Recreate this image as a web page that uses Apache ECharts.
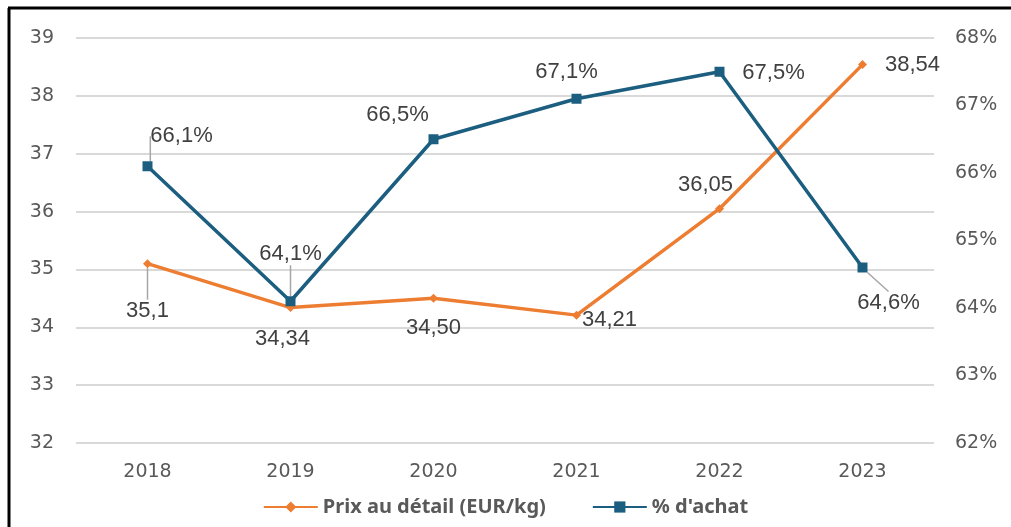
<!DOCTYPE html>
<html>
<head>
<meta charset="utf-8">
<script src="https://cdn.jsdelivr.net/npm/echarts@6/dist/echarts.min.js"></script>
<style>
  html, body { margin: 0; padding: 0; background: #fff; }
  #chart { width: 1011px; height: 527px; }
</style>
</head>
<body>
<div id="chart"></div>
<script>
    // categories and values
    const years = ['2018', '2019', '2020', '2021', '2022', '2023'];
    const prix = [35.1, 34.34, 34.50, 34.21, 36.05, 38.54];
    const prixLabels = ['35,1', '34,34', '34,50', '34,21', '36,05', '38,54'];
    const achat = [66.1, 64.1, 66.5, 67.1, 67.5, 64.6];
    const achatLabels = ['66,1%', '64,1%', '66,5%', '67,1%', '67,5%', '64,6%'];

    // label offsets relative to the marker (pixel nudges only)
    const prixShift = [[0, 47], [-8, 31], [0, 30], [33, 5], [-14, -24], [50, 0]];
    const prixLeader = [true, false, false, false, false, false];
    const achatShift = [[34, -30], [0, -47], [-36, -24], [-10, -27], [54, 1], [26, 35]];
    const achatLeader = [true, true, false, false, false, true];

    const tickFont = '"DejaVu Sans", "Noto Sans", sans-serif';
    const legendFont = '"Noto Sans", "DejaVu Sans", sans-serif';
    const labelFont = '"Liberation Sans", Arial, sans-serif';

    function buildData(values, texts, leader) {
        return values.map(function (v, i) {
            return {
                value: v,
                label: {formatter: texts[i]},
                labelLine: {show: leader[i]}
            };
        });
    }

    let myChart = echarts.init(document.getElementById('chart'), null, {renderer: 'canvas'});
    myChart.setOption({
        animation: false,
        backgroundColor: '#ffffff',
        graphic: [
            {type: 'line', shape: {x1: 9, y1: 8, x2: 9, y2: 527}, style: {stroke: '#000', lineWidth: 3}},
            {type: 'line', shape: {x1: 8, y1: 8, x2: 1011, y2: 8}, style: {stroke: '#000', lineWidth: 3}}
        ],
        grid: {
            left: 76,
            right: 77,
            top: 38,
            bottom: 84
        },
        legend: {
            bottom: 5,
            left: 'center',
            itemGap: 46,
            itemWidth: 54,
            itemHeight: 14,
            textStyle: {
                fontFamily: legendFont,
                fontWeight: 'bold',
                fontSize: 20,
                color: '#595959'
            },
            data: ['Prix au détail (EUR/kg)', "% d'achat"]
        },
        xAxis: {
            type: 'category',
            data: years,
            boundaryGap: true,
            axisLine: {show: false},
            axisTick: {show: false},
            axisLabel: {
                margin: 20,
                fontFamily: tickFont,
                fontSize: 19,
                color: '#595959'
            }
        },
        yAxis: [
            {
                type: 'value',
                min: 32,
                max: 39,
                interval: 1,
                axisLine: {show: false},
                axisTick: {show: false},
                axisLabel: {
                    margin: 22,
                    fontFamily: tickFont,
                    fontSize: 19,
                    color: '#595959'
                },
                splitLine: {lineStyle: {color: '#d9d9d9', width: 2}}
            },
            {
                type: 'value',
                min: 62,
                max: 68,
                interval: 1,
                axisLine: {show: false},
                axisTick: {show: false},
                axisLabel: {
                    margin: 21,
                    formatter: '{value}%',
                    fontFamily: tickFont,
                    fontSize: 19,
                    color: '#595959'
                },
                splitLine: {show: false}
            }
        ],
        series: [
            {
                name: 'Prix au détail (EUR/kg)',
                type: 'line',
                yAxisIndex: 0,
                data: buildData(prix, prixLabels, prixLeader),
                symbol: 'diamond',
                symbolSize: 9,
                z: 3,
                lineStyle: {color: '#ED7D31', width: 3.5},
                itemStyle: {color: '#ED7D31'},
                label: {
                    show: true,
                    position: 'inside',
                    fontFamily: labelFont,
                    fontSize: 22,
                    color: '#404040'
                },
                labelLine: {
                    show: false,
                    lineStyle: {color: '#a6a6a6', width: 1.5}
                },
                labelLayout: function (params) {
                    let s = prixShift[params.dataIndex];
                    return {dx: s[0], dy: s[1]};
                }
            },
            {
                name: "% d'achat",
                type: 'line',
                yAxisIndex: 1,
                data: buildData(achat, achatLabels, achatLeader),
                symbol: 'rect',
                symbolSize: 10,
                z: 4,
                lineStyle: {color: '#1B5E80', width: 3.5},
                itemStyle: {color: '#1B5E80'},
                label: {
                    show: true,
                    position: 'inside',
                    fontFamily: labelFont,
                    fontSize: 22,
                    color: '#404040'
                },
                labelLine: {
                    show: false,
                    lineStyle: {color: '#a6a6a6', width: 1.5}
                },
                labelLayout: function (params) {
                    let s = achatShift[params.dataIndex];
                    return {dx: s[0], dy: s[1]};
                }
            }
        ]
    });
</script>
</body>
</html>
